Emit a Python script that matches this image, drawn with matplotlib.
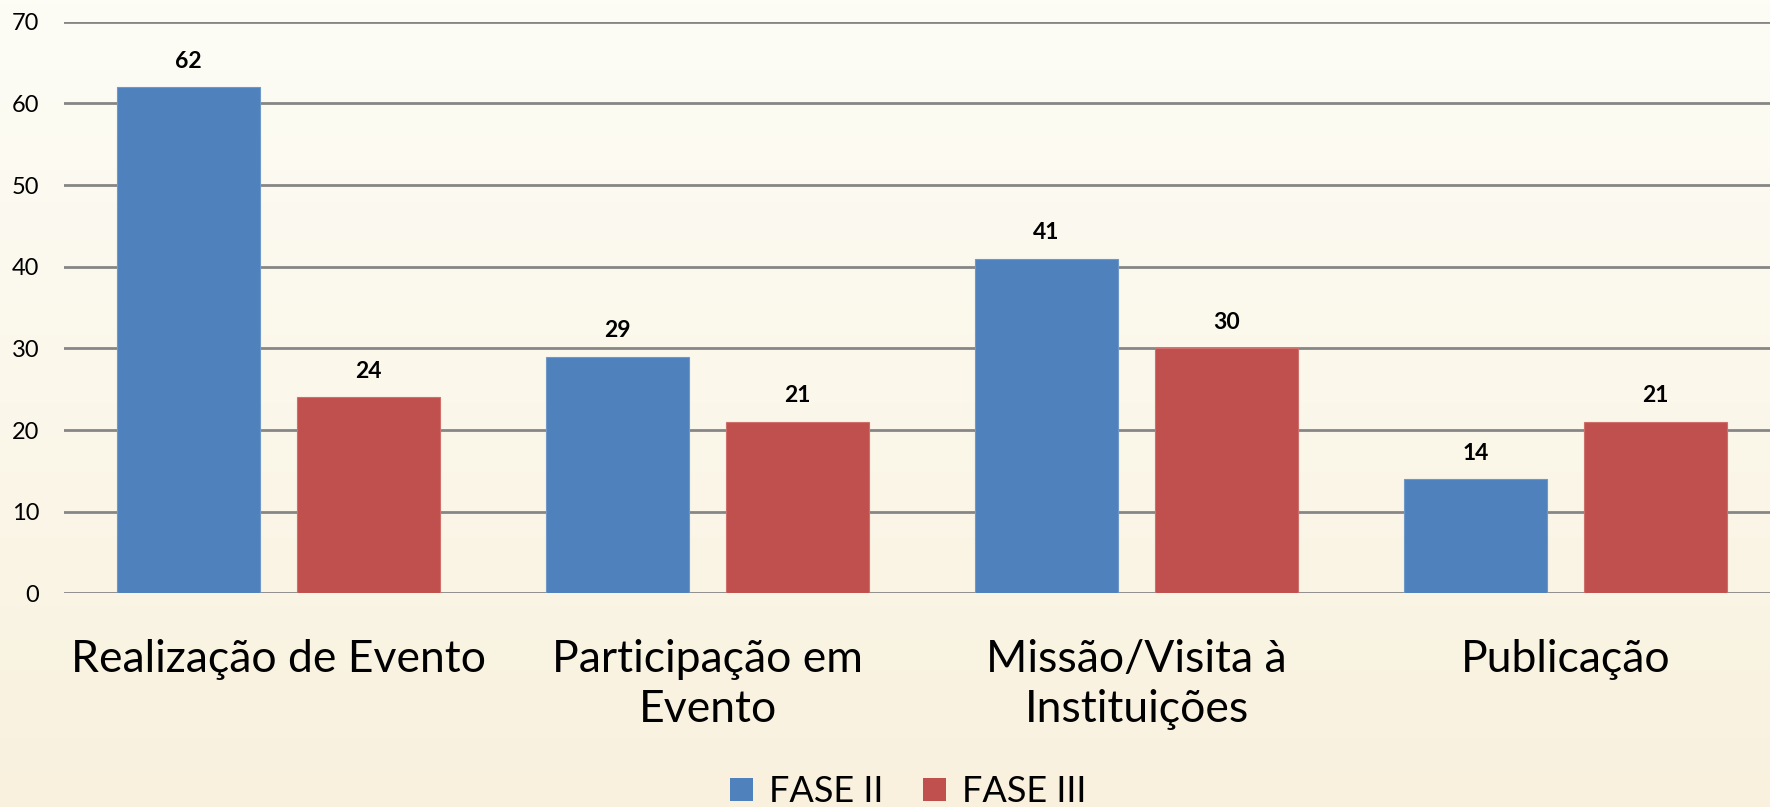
import numpy as np
import matplotlib
matplotlib.use("Agg")
import matplotlib.pyplot as plt
from matplotlib.patches import Patch

categories = ["Realização de Evento", "Participação em\nEvento", "Missão/Visita à\nInstituições", "Publicação"]
fase2 = [62, 29, 41, 14]
fase3 = [24, 21, 30, 21]
series_names = ["FASE II", "FASE III"]
yticks = [0, 10, 20, 30, 40, 50, 60, 70]

plt.rcParams['font.family'] = ['Lato', 'DejaVu Sans']

fig = plt.figure(figsize=(17.7, 8.07), dpi=100)

# background gradient
bg = fig.add_axes([0, 0, 1, 1], zorder=-10)
h = 200
t = np.linspace(0, 1, h)[:, None]
top = np.array([253, 253, 246]) / 255.0
bot = np.array([249, 241, 222]) / 255.0
img = top[None, None, :] * (1 - t[..., None]) + bot[None, None, :] * t[..., None]
img = np.repeat(img, 2, axis=1)
bg.imshow(img, aspect='auto', extent=[0, 1, 0, 1], origin='upper')
bg.set_axis_off()

ax = fig.add_axes([0.0362, 0.2646, 0.9695, 0.7085])
ax.set_facecolor('none')

x = np.arange(len(categories))
off = 0.21
w = 0.333
b1 = ax.bar(x - off, fase2, w, color='#4f81bd', edgecolor='#6f97c8', linewidth=0.8, zorder=3)
b2 = ax.bar(x + off, fase3, w, color='#c0504d', edgecolor='#cf6f6c', linewidth=0.8, zorder=3)

for bars, vals in ((b1, fase2), (b2, fase3)):
    for r, v in zip(bars, vals):
        ax.annotate(str(v), (r.get_x() + r.get_width() / 2, v), xytext=(0, 26),
                    textcoords='offset pixels', ha='center', va='center',
                    fontsize=16.5, fontweight='bold', color='black')

ax.set_xlim(-0.5, 3.5)
ax.set_ylim(0, 70)
ax.set_yticks(yticks)
ax.set_yticklabels([str(v) for v in yticks], fontsize=17)
ax.yaxis.grid(True, color='#868686', linewidth=2, zorder=0)
ax.set_axisbelow(True)
ax.tick_params(axis='y', length=0, pad=18)
ax.tick_params(axis='x', length=0, pad=33)
ax.set_xticks(x)
ax.set_xticklabels(categories, fontsize=32, linespacing=1.27, va='top')
for s in ax.spines.values():
    s.set_visible(False)

handles = [Patch(facecolor='#4f81bd', label=series_names[0]),
           Patch(facecolor='#c0504d', label=series_names[1])]
fig.legend(handles=handles, loc='center', bbox_to_anchor=(0.513, 0.019), ncol=2,
           frameon=False, fontsize=26, handlelength=0.63, handleheight=0.63,
           handletextpad=0.45, columnspacing=1.1)

fig.savefig("out.png", dpi=100)
